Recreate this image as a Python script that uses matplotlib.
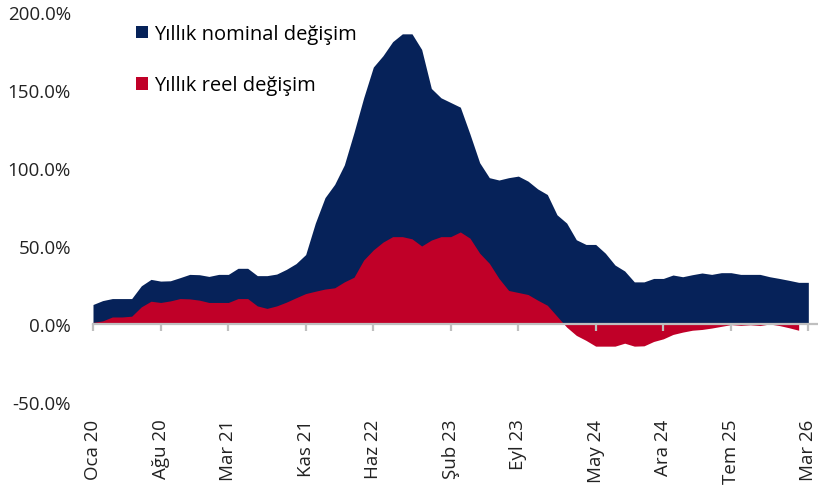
import numpy as np
import matplotlib.pyplot as plt

plt.rcParams['font.family'] = ['Open Sans', 'DejaVu Sans']

# aylar, Oca 20 - Mar 26
months = ["Oca", "Şub", "Mar", "Nis", "May", "Haz", "Tem", "Ağu", "Eyl", "Eki", "Kas", "Ara"]
nominal = [12.5, 15, 16.3, 16.3, 16.3, 24.5, 28.6, 27.5, 27.7, 29.7, 31.8, 31.6,
           30.5, 31.8, 31.8, 35.7, 35.7, 31, 31, 32, 35, 38.7, 44.5, 64.7,
           81, 89.5, 102, 122.8, 145, 164.7, 172, 181, 186, 186, 176, 151,
           145, 142, 139, 121.7, 103.4, 93.8, 92.3, 93.8, 94.8, 91.6, 86.6, 83,
           70, 64.7, 54, 51, 51, 45.4, 37.8, 34, 27, 27, 29.2, 29.2,
           31.4, 30.3, 31.6, 32.7, 31.8, 32.9, 32.9, 31.8, 31.8, 31.8, 30.3, 29.2,
           28, 26.7, 26.7]
real = [1, 2, 4.5, 4.5, 5, 11, 14.6, 13.8, 14.8, 16.3, 16.1, 15.3,
        13.8, 13.8, 13.8, 16.3, 16.3, 11.6, 10, 11.6, 14, 16.8, 19.5, 21,
        22.4, 23.2, 27, 30, 41, 47.5, 52.5, 56, 56, 54.6, 50, 53.8,
        56, 56, 59, 55, 45.4, 38.9, 29.2, 21.5, 20.2, 18.9, 15.3, 12,
        5, -2, -7.3, -10.5, -14.2, -14.2, -14.2, -12.3, -14.2, -14, -11.2, -9.5,
        -6.7, -5.2, -4, -3.5, -2.6, -1.5, -0.4, -0.9, -0.5, -1, 0, -1,
        -2.4, -4]
tick_idx = [0, 7, 14, 22, 29, 37, 44, 52, 59, 66, 74]
tick_labels = [f"{months[i % 12]} {20 + i // 12}" for i in tick_idx]

blue = "#062259"
red = "#C00028"
grey = "#BFBFBF"

fig = plt.figure(figsize=(8.18, 4.89), dpi=100)
ax = fig.add_axes([93 / 818, 1 - 403 / 489, 725 / 818, 390 / 489])

x_nom = np.arange(len(nominal))
x_real = np.arange(len(real))
ax.fill_between(x_nom, 0, nominal, color=blue, lw=0, label="Yıllık nominal değişim")
ax.fill_between(x_real, 0, real, color=red, lw=0, label="Yıllık reel değişim")

ax.set_xlim(0, 75)
ax.set_ylim(-50, 200)
ax.set_yticks(np.arange(-50, 201, 50))
ax.set_yticklabels([f"{v:.1f}%" for v in np.arange(-50, 201, 50)])
ax.tick_params(axis='y', length=0, pad=16, labelsize=13.5, colors='#222222')

for s in ['top', 'right', 'left']:
    ax.spines[s].set_visible(False)
ax.spines['bottom'].set_position(('data', 0))
ax.spines['bottom'].set_color(grey)
ax.spines['bottom'].set_linewidth(1.6)
ax.set_xticks(tick_idx)
ax.tick_params(axis='x', length=5, width=1.6, color=grey, labelbottom=False)

sec = ax.secondary_xaxis('bottom')
sec.set_xticks(tick_idx, tick_labels, rotation=90)
sec.tick_params(length=0, pad=12, labelsize=13.5, colors='#222222')
sec.spines['bottom'].set_visible(False)

ax.legend(loc='upper left', bbox_to_anchor=(136 / 818, 1 - 25 / 489),
          bbox_transform=fig.transFigure, frameon=False, fontsize=14.5,
          handlelength=0.6, handleheight=0.6, handletextpad=0.3,
          labelspacing=1.55, borderpad=0, borderaxespad=0)

plt.savefig("out.png", dpi=100)
